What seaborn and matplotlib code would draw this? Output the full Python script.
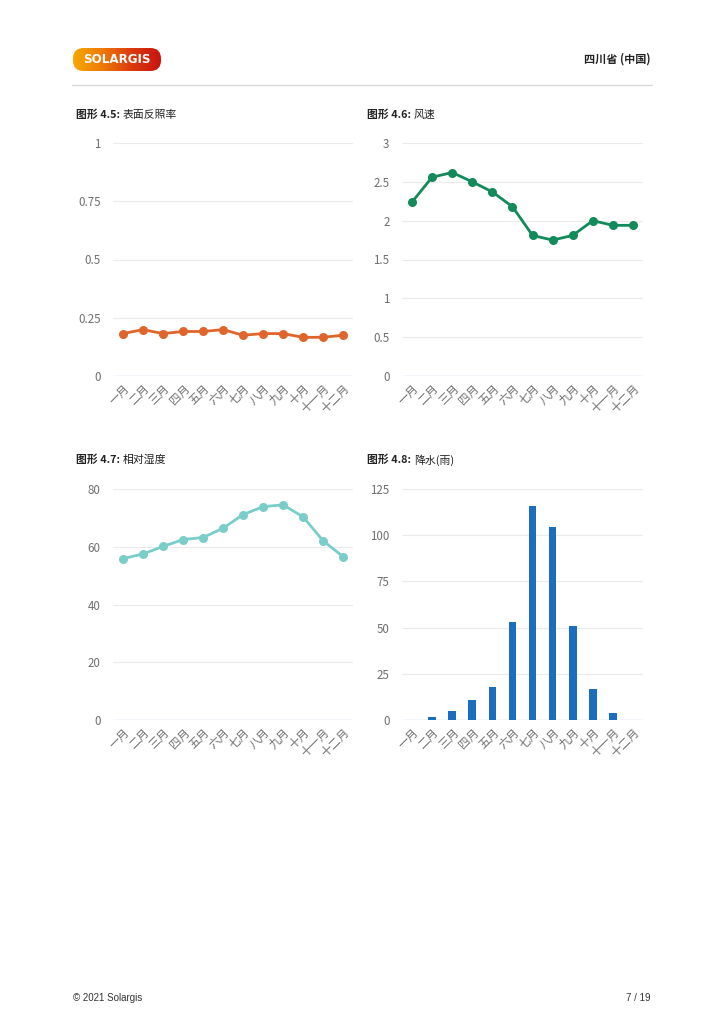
import numpy as np
import pandas as pd
import matplotlib
matplotlib.use("Agg")
import matplotlib.pyplot as plt
import seaborn as sns
from matplotlib.patches import FancyBboxPatch

# data
months = ["一月", "二月", "三月", "四月", "五月", "六月",
          "七月", "八月", "九月", "十月", "十一月", "十二月"]
albedo = [0.182, 0.199, 0.182, 0.191, 0.191, 0.199,
          0.175, 0.182, 0.182, 0.166, 0.166, 0.175]
wind = [2.24, 2.56, 2.62, 2.50, 2.37, 2.18, 1.81, 1.75, 1.81, 2.00, 1.94, 1.94]
humidity = [55.9, 57.5, 60.1, 62.5, 63.2, 66.4, 71.1, 73.9, 74.5, 70.4, 62.1, 56.6]
rain = [0, 1.4, 4.7, 10.6, 18.0, 52.9, 116.0, 104.7, 50.9, 16.9, 3.8, 0]

albedo_ticks = [0, 0.25, 0.5, 0.75, 1]
albedo_labels = ["0", "0.25", "0.5", "0.75", "1"]
wind_ticks = [0, 0.5, 1, 1.5, 2, 2.5, 3]
wind_labels = ["0", "0.5", "1", "1.5", "2", "2.5", "3"]
hum_ticks = [0, 20, 40, 60, 80]
rain_ticks = [0, 25, 50, 75, 100, 125]

sns.set_theme(style="white")
plt.rcParams["font.family"] = ["Noto Sans CJK SC", "DejaVu Sans"]

W, H = 723, 1024
fig = plt.figure(figsize=(W / 100, H / 100), dpi=100)


def box(x0, x1, y_top, y_bot):
    return [x0 / W, 1 - y_bot / H, (x1 - x0) / W, (y_bot - y_top) / H]


def style_axis(ax, ticks, labels, ymax):
    ax.set_xlim(-0.5, 11.5)
    ax.set_ylim(0, ymax)
    ax.set_yticks(ticks)
    ax.set_yticklabels(labels)
    ax.set_xticks(range(12))
    ax.set_xticklabels(months, rotation=45, ha="right", rotation_mode="anchor")
    ax.tick_params(axis="both", length=0, labelsize=8.3, colors="#6f6f6f")
    ax.tick_params(axis="y", pad=9)
    ax.tick_params(axis="x", pad=4)
    for t in ticks[1:]:
        ax.axhline(t, color="#ebebeb", lw=0.8, zorder=0)
    ax.axhline(0, color="#ccd6eb", lw=1.0, zorder=0.5)
    for s in ax.spines.values():
        s.set_visible(False)
    ax.set_xlabel("")
    ax.set_ylabel("")
    ax.set_facecolor("none")


def title(x, y, bold, rest):
    t = fig.text(x / W, 1 - y / H, bold, fontsize=7.8, fontweight="bold",
                 color="#222222", va="center", ha="left")
    fig.canvas.draw()
    bb = t.get_window_extent()
    fig.text(bb.x1 / W + 3 / W, 1 - y / H, rest, fontsize=7.8,
             color="#222222", va="center", ha="left")


ax1 = fig.add_axes(box(113, 353, 143, 376))
sns.lineplot(x=list(range(12)), y=albedo, ax=ax1, color="#e0652c", lw=2,
             marker="o", markersize=6.5, markeredgewidth=0)
style_axis(ax1, albedo_ticks, albedo_labels, 1)

ax2 = fig.add_axes(box(402, 643, 143, 376))
sns.lineplot(x=list(range(12)), y=wind, ax=ax2, color="#138a5a", lw=2,
             marker="o", markersize=6.5, markeredgewidth=0)
style_axis(ax2, wind_ticks, wind_labels, 3)

ax3 = fig.add_axes(box(113, 353, 489, 720))
sns.lineplot(x=list(range(12)), y=humidity, ax=ax3, color="#7acdc8", lw=2,
             marker="o", markersize=6.5, markeredgewidth=0)
style_axis(ax3, hum_ticks, [str(v) for v in hum_ticks], 80)

ax4 = fig.add_axes(box(402, 643, 489, 720))
df_rain = pd.DataFrame({"month": months, "rain": rain})
sns.barplot(data=df_rain, x="month", y="rain", ax=ax4, color="#1b6dbe",
            width=0.38, saturation=1, linewidth=0)
style_axis(ax4, rain_ticks, [str(v) for v in rain_ticks], 125)

title(76, 115, "图形 4.5:", "表面反照率")
title(367, 115, "图形 4.6:", "风速")
title(76, 460, "图形 4.7:", "相对湿度")
title(367, 460, "图形 4.8:", "降水(雨)")

# header logo
logo_ax = fig.add_axes(box(73, 161, 48, 71))
logo_ax.set_axis_off()
grad = np.linspace(0, 1, 256).reshape(1, -1)
cmap = matplotlib.colors.LinearSegmentedColormap.from_list(
    "logo", ["#f6a800", "#ee7a08", "#dc3a0e", "#c8140f"])
im = logo_ax.imshow(grad, aspect="auto", cmap=cmap, extent=[0, 1, 0, 1])
patch = FancyBboxPatch((0.0, 0.0), 1.0, 1.0,
                       boxstyle="round,pad=0,rounding_size=0.12",
                       transform=logo_ax.transAxes, facecolor="none",
                       edgecolor="none", mutation_aspect=88 / 23)
logo_ax.add_patch(patch)
im.set_clip_path(patch)
logo_ax.set_xlim(0, 1)
logo_ax.set_ylim(0, 1)
logo_ax.text(0.5, 0.5, "SOLARGIS", color="white", fontsize=8.6,
             fontweight="bold", ha="center", va="center",
             family=["DejaVu Sans"])

fig.text(651 / W, 1 - 59 / H, "四川省 (中国)", fontsize=8, fontweight="bold",
         color="#222222", ha="right", va="center")
fig.add_artist(plt.Line2D([72 / W, 652 / W], [1 - 85 / H, 1 - 85 / H],
                          color="#d9d9d9", lw=1.0))

# footer
fig.text(73 / W, 1 - 998 / H, "© 2021 Solargis", fontsize=7, color="#333333",
         ha="left", va="center", family=["Liberation Sans", "DejaVu Sans"])
fig.text(651 / W, 1 - 998 / H, "7 / 19", fontsize=7, color="#333333",
         ha="right", va="center", family=["Liberation Sans", "DejaVu Sans"])

fig.savefig("out.png", dpi=100, facecolor="white")
